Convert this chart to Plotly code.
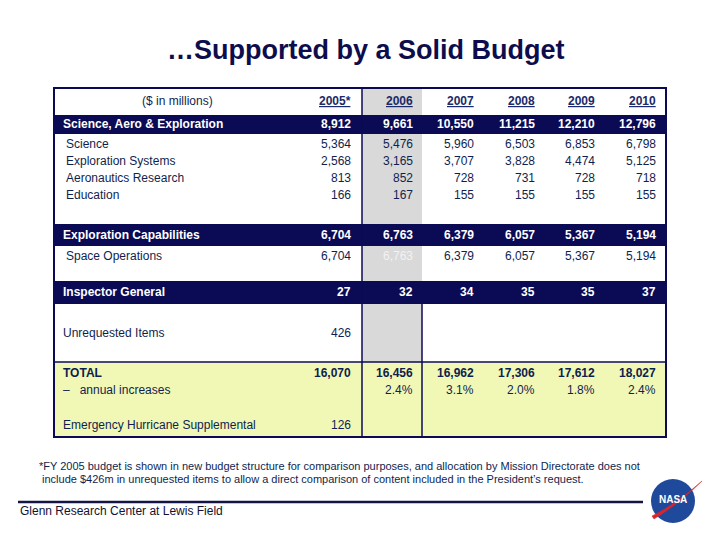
import plotly.graph_objects as go

# ---------------- data ----------------
years = ["2005*", "2006", "2007", "2008", "2009", "2010"]
science_aero_exploration = [8912, 9661, 10550, 11215, 12210, 12796]
science = [5364, 5476, 5960, 6503, 6853, 6798]
exploration_systems = [2568, 3165, 3707, 3828, 4474, 5125]
aeronautics_research = [813, 852, 728, 731, 728, 718]
education = [166, 167, 155, 155, 155, 155]
exploration_capabilities = [6704, 6763, 6379, 6057, 5367, 5194]
space_operations = [6704, 6763, 6379, 6057, 5367, 5194]
inspector_general = [27, 32, 34, 35, 35, 37]
unrequested_items = [426]
total = [16070, 16456, 16962, 17306, 17612, 18027]
annual_increases = [None, 2.4, 3.1, 2.0, 1.8, 2.4]
hurricane_supplemental = [126]

title = "…Supported by a Solid Budget"
footnote = ["*FY 2005 budget is shown in new budget structure for comparison purposes, and allocation by Mission Directorate does not",
            " include $426m in unrequested items to allow a direct comparison of content included in the President\u2019s request."]
footer = "Glenn Research Center at Lewis Field"

# ---------------- style ----------------
NAVY = "#0b0b55"
TXT = "#0f1f4f"
GRAY = "#d9d9d9"
YELLOW = "#f1f8b6"
FONT = "Liberation Sans, Arial, sans-serif"
FS = 12

col_right = [353, 415, 476, 537, 597, 658]
L, R, T, B = 54, 666, 88, 437
C1, C2 = 362, 422

fig = go.Figure()
fig.add_trace(go.Scatter(x=[], y=[], showlegend=False))

shapes = []
def rect(x0, y0, x1, y1, fill, lw=0, lc=None):
    shapes.append(dict(type="rect", xref="x", yref="y", x0=x0, y0=y0, x1=x1, y1=y1,
                       fillcolor=fill, line=dict(width=lw, color=lc or fill), layer="below"))
def line(x0, y0, x1, y1, w=1.5, c=NAVY, layer="above"):
    shapes.append(dict(type="line", xref="x", yref="y", x0=x0, y0=y0, x1=x1, y1=y1,
                       line=dict(width=w, color=c), layer=layer))

# backgrounds
rect(C1, T, C2, 362, GRAY)
rect(L, 362, R, B, YELLOW)
for (y0, y1) in [(115, 134), (224, 246), (281, 304)]:
    rect(L, y0, R, y1, NAVY)
# lines
line(C1, T, C1, B)
line(C2, 304, C2, B)
line(L, 362, R, 362)
shapes.append(dict(type="rect", xref="x", yref="y", x0=L, y0=T, x1=R, y1=B,
                   line=dict(width=2, color=NAVY), fillcolor="rgba(0,0,0,0)"))
# footer rule
line(18, 502, 643, 502, w=2.5, c="#141445")

# NASA logo
shapes.append(dict(type="circle", xref="x", yref="y", x0=651, y0=479, x1=695, y1=523,
                   fillcolor="#1f4a9c", line=dict(width=0)))
shapes.append(dict(type="path", xref="x", yref="y",
                   path="M 652,516 Q 675,505 702,481 Q 680,503 654,519 Z",
                   fillcolor="#d8262b", line=dict(width=0.5, color="#d8262b")))

ann = []
def text(x, y, s, size=FS, color=TXT, anchor="left", bold=False):
    if bold:
        s = f"<b>{s}</b>"
    ann.append(dict(x=x, y=y, xref="x", yref="y", text=s, showarrow=False,
                    xanchor=anchor, yanchor="middle",
                    font=dict(family=FONT, size=size, color=color)))

def num(v):
    return f"{v:,}"

# title
text(366, 50, title, size=27, color="#0d0d4d", anchor="center", bold=True)

# header
text(177, 101, "($ in millions)", anchor="center")
for x, yv in zip(col_right, years):
    text(x, 101, f"<u>{yv}</u>", anchor="right", bold=True, color="#1a2a6a")

# section: science, aero & exploration
text(61, 124, "Science, Aero &amp; Exploration", color="white", bold=True)
for x, v in zip(col_right, science_aero_exploration):
    text(x, 124, num(v), anchor="right", color="white", bold=True)
for y, lab, vals in [(144, "Science", science), (161, "Exploration Systems", exploration_systems),
                     (178, "Aeronautics Research", aeronautics_research), (195, "Education", education)]:
    text(64, y, lab)
    for x, v in zip(col_right, vals):
        text(x, y, num(v), anchor="right")

# exploration capabilities
text(61, 235, "Exploration Capabilities", color="white", bold=True)
for x, v in zip(col_right, exploration_capabilities):
    text(x, 235, num(v), anchor="right", color="white", bold=True)
text(64, 256, "Space Operations")
for i, (x, v) in enumerate(zip(col_right, space_operations)):
    text(x, 256, num(v), anchor="right", color="#f2f2f2" if i == 1 else TXT)

# inspector general
text(61, 292, "Inspector General", color="white", bold=True)
for x, v in zip(col_right, inspector_general):
    text(x, 292, num(v), anchor="right", color="white", bold=True)

# unrequested
text(61, 333, "Unrequested Items")
text(col_right[0], 333, num(unrequested_items[0]), anchor="right")

# total
text(61, 373, "TOTAL", bold=True, color="#0d2050")
text(61, 390, "\u2013   annual increases")
for x, v in zip(col_right, total):
    text(x, 373, num(v), anchor="right", bold=True, color="#0d2050")
for x, v in zip(col_right, annual_increases):
    if v is not None:
        text(x, 390, f"{v:.1f}%", anchor="right")

# hurricane
text(61, 425, "Emergency Hurricane Supplemental")
text(col_right[0], 425, num(hurricane_supplemental[0]), anchor="right")

# footnote
text(37, 466, footnote[0], size=11)
text(37, 479, footnote[1], size=11)
text(18, 511, footer, size=12, color="#111133")
text(673, 499, "NASA", size=10, color="white", anchor="center", bold=True)

# the page body has an 8px margin, so offset the axis ranges to keep screen coordinates
fig.update_layout(
    width=720, height=540,
    margin=dict(l=0, r=0, t=0, b=0),
    paper_bgcolor="white", plot_bgcolor="white",
    xaxis=dict(range=[8, 728], visible=False, fixedrange=True),
    yaxis=dict(range=[548, 8], visible=False, fixedrange=True),
    shapes=shapes, annotations=ann, showlegend=False,
)
fig.write_html("out.html")
